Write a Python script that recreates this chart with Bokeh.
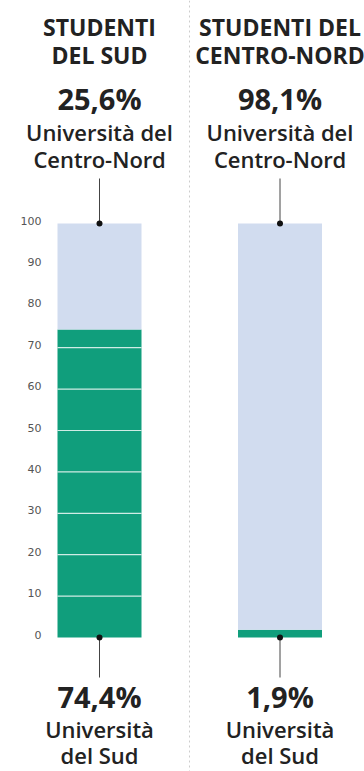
from bokeh.plotting import figure
from bokeh.models import Range1d
from bokeh.core.properties import value
from bokeh.embed import file_html
from bokeh.resources import INLINE

# ---- data ----
groups = ["STUDENTI\nDEL SUD", "STUDENTI DEL\nCENTRO-NORD"]
centro_nord = [25.6, 98.1]   # % enrolled at Centre-North universities
sud = [74.4, 1.9]            # % enrolled at Southern universities
top_label = ["Università del", "Centro-Nord"]
bottom_label = ["Università", "del Sud"]
tick_values = [0, 10, 20, 30, 40, 50, 60, 70, 80, 90, 100]
tick_labels = ["0", "10", "20", "30", "40", "50", "60", "70", "80", "90", "100"]

W, H = 364, 771
Y0_PX = 637.0      # pixel row of value 0
PX_PER = 4.14      # pixels per percentage point
TXT_SHIFT = 11     # compensate renderer's baseline offset

def py(pix):
    """screen pixel row -> data value"""
    return (Y0_PX - pix) / PX_PER

def ty(pix):
    return py(pix - TXT_SHIFT)

GREEN = "#109e7c"
LIGHT = "#d1dcef"
DARK = "#222222"
FONT = "'Open Sans SemiBold', 'Open Sans'"
BFONT = "Open Sans"

p = figure(width=W, height=H, output_backend="svg", toolbar_location=None,
           x_range=Range1d(0, W), y_range=Range1d(py(H), py(0)),
           min_border=0, outline_line_color=None)
p.axis.visible = False
p.grid.visible = False
p.background_fill_color = "white"
p.border_fill_color = "white"

xc = [99, 279.5]
bw = 84

# separator between the two panels
p.segment(x0=[189], y0=[py(0)], x1=[189], y1=[py(H)], line_color="#cccccc",
          line_width=1, line_dash="2 3")

# bars: green (south) from 0, light blue (centre-north) on top, up to 100
p.vbar(x=xc, width=bw, bottom=0, top=sud, fill_color=GREEN, line_color=None)
p.vbar(x=xc, width=bw, bottom=sud, top=100, fill_color=LIGHT, line_color=None)

# white grid lines inside the green part
gx0, gx1, gy = [], [], []
for i, s in enumerate(sud):
    for t in tick_values[1:]:
        if t < s:
            gx0.append(xc[i] - bw / 2)
            gx1.append(xc[i] + bw / 2)
            gy.append(t)
p.segment(x0=gx0, y0=gy, x1=gx1, y1=gy, line_color="white", line_width=1.2, line_alpha=0.8)

# tick labels (left)
p.text(x=[41] * len(tick_values), y=tick_values, text=tick_labels, text_align="right",
       text_baseline="middle", text_font=value("DejaVu Sans"), text_font_size="11px",
       text_color="#555555", y_offset=-3)

# connector lines and dots
p.segment(x0=xc, y0=[100] * 2, x1=xc, y1=[py(178)] * 2, line_color="#444444", line_width=1)
p.segment(x0=xc, y0=[0] * 2, x1=xc, y1=[py(677)] * 2, line_color="#444444", line_width=1)
p.scatter(x=xc + xc, y=[100, 100, 0, 0], size=6, fill_color="#111111", line_color=None)

# headings
for i, g in enumerate(groups):
    l1, l2 = g.split("\n")
    p.text(x=[xc[i]], y=[ty(37)], text=[l1], text_align="center", text_baseline="alphabetic",
           text_font=value(BFONT), text_font_style="bold", text_font_size="23px", text_color=DARK)
    p.text(x=[xc[i]], y=[ty(65)], text=[l2], text_align="center", text_baseline="alphabetic",
           text_font=value(BFONT), text_font_style="bold", text_font_size="23px", text_color=DARK)

def pct(v):
    return f"{v:.1f}%".replace(".", ",")

# top values
p.text(x=xc, y=[ty(109)] * 2, text=[pct(v) for v in centro_nord], text_align="center",
       text_baseline="alphabetic", text_font=value(BFONT), text_font_style="bold",
       text_font_size="29px", text_color=DARK)
p.text(x=xc, y=[ty(142)] * 2, text=[top_label[0]] * 2, text_align="center",
       text_baseline="alphabetic", text_font=value(FONT), text_font_size="22px", text_color=DARK)
p.text(x=xc, y=[ty(169)] * 2, text=[top_label[1]] * 2, text_align="center",
       text_baseline="alphabetic", text_font=value(FONT), text_font_size="22px", text_color=DARK)

# bottom values
p.text(x=xc, y=[ty(707)] * 2, text=[pct(v) for v in sud], text_align="center",
       text_baseline="alphabetic", text_font=value(BFONT), text_font_style="bold",
       text_font_size="29px", text_color=DARK)
p.text(x=xc, y=[ty(739)] * 2, text=[bottom_label[0]] * 2, text_align="center",
       text_baseline="alphabetic", text_font=value(FONT), text_font_size="22px", text_color=DARK)
p.text(x=xc, y=[ty(765)] * 2, text=[bottom_label[1]] * 2, text_align="center",
       text_baseline="alphabetic", text_font=value(FONT), text_font_size="22px", text_color=DARK)

open("out.html", "w").write(file_html(p, INLINE))
